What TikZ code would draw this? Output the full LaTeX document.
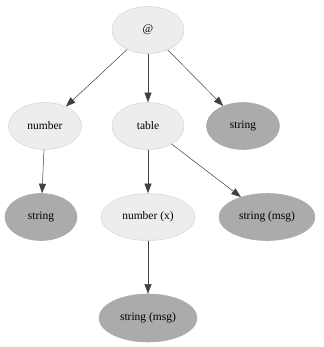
\documentclass[tikz,border=0pt]{standalone}
\usepackage{fontspec}
\setmainfont{Liberation Serif}
\usetikzlibrary{arrows.meta,shapes.geometric}

\begin{document}
\begin{tikzpicture}[x=1pt,y=-1pt,
        lightnode/.style={ellipse,fill=black!7,draw=black!15,line width=0.6pt,inner sep=0pt,
                          minimum height=47,font=\fontsize{11.5}{13}\selectfont},
        darknode/.style={lightnode,fill=black!33,draw=black!33},
        edge/.style={black!75,line width=0.5pt,-{Triangle[length=9.5pt,width=7pt]}}]
    \useasboundingbox (0,0) rectangle (323,347);
    % top row
    \node[lightnode,minimum width=72] (root) at (148,30) {@};
    % second row
    \node[lightnode,minimum width=73] (num) at (45,126) {number};
    \node[lightnode,minimum width=72] (tbl) at (148,126) {table};
    \node[darknode,minimum width=73] (str) at (243,126) {string};
    % third row
    \node[darknode,minimum width=72] (numstr) at (41,217) {string};
    \node[lightnode,minimum width=94] (numx) at (148,217) {number (x)};
    \node[darknode,minimum width=96] (tblmsg) at (267,217) {string (msg)};
    % bottom
    \node[darknode,minimum width=98,minimum height=48] (xmsg) at (148,318) {string (msg)};
    % edges
    \draw[edge] (root) -- (num);
    \draw[edge] (root) -- (tbl);
    \draw[edge] (root) -- (str);
    \draw[edge] (num) -- (numstr);
    \draw[edge] (tbl) -- (numx);
    \draw[edge] (tbl) -- (tblmsg);
    \draw[edge] (numx) -- (xmsg);
\end{tikzpicture}
\end{document}
